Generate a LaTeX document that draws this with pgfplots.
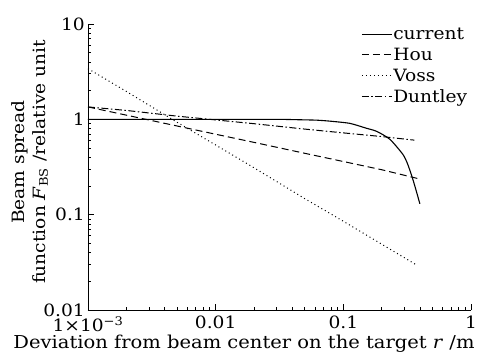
\documentclass[border=0pt]{standalone}
\usepackage{pgfplots}
\pgfplotsset{compat=1.18}
\usepackage{fontspec}
\setmainfont{DejaVu Serif}[FakeStretch=1.1]
\newcommand\fs{\fontsize{17}{20.5}\selectfont}
\begin{document}
\begin{tikzpicture}
\path[use as bounding box] (-88bp,-43bp) rectangle (393bp,310bp);
\begin{axis}[
  at={(0,0)}, anchor=south west,
  scale only axis, width=383bp, height=286bp,
  xmode=log, ymode=log,
  xmin=1e-3, xmax=1, ymin=0.01, ymax=10,
  axis x line*=bottom, axis y line*=left,
  axis line style={-, line width=0.9bp},
  tick align=inside,
  major tick length=6bp, minor tick length=3.5bp,
  every tick/.style={black, line width=0.8bp},
  xtick={0.001,0.01,0.1,1},
  xticklabels={1×10\textsuperscript{−3},0.01,0.1,1},
  minor xtick={0.002,0.003,0.004,0.005,0.006,0.007,0.008,0.009,0.02,0.03,0.04,0.05,0.06,0.07,0.08,0.09,0.2,0.3,0.4,0.5,0.6,0.7,0.8,0.9},
  ytick={0.01,0.1,1,10},
  yticklabels={0.01,0.1,1,10},
  minor ytick={0.02,0.03,0.04,0.05,0.06,0.07,0.08,0.09,0.2,0.3,0.4,0.5,0.6,0.7,0.8,0.9,2,3,4,5,6,7,8,9},
  tick label style={font=\fs},
  xticklabel style={anchor=north, yshift=-4bp, inner sep=2bp},
  yticklabel style={anchor=east, inner sep=2bp, xshift=-1bp},
  xlabel={Deviation from beam center on the target \textit{r} /m},
  xlabel style={font=\fontsize{17.8}{20}\selectfont, at={(axis description cs:0.5,0)}, anchor=center, xshift=-35.5bp, yshift=-34bp},
  ylabel={Beam spread\\function \textit{F}\textsubscript{BS} /relative unit},
  ylabel style={font=\fs, align=center, at={(axis description cs:0,0.5)}, anchor=center, xshift=5bp, yshift=58bp},
  legend style={draw=none, fill=none, font=\fs, at={(axis description cs:0.705,0.997)}, anchor=north west, row sep=5bp, nodes={inner sep=1bp}},
  legend cell align=left,
  legend image code/.code={\draw[#1] (0bp,0bp) -- (30bp,0bp);},
  clip=false,
]
\addplot[black, line width=1.1bp, smooth, tension=0.4] coordinates {
(0.001,1.0) (0.01,1.0) (0.03,1.0) (0.0457,0.99) (0.0621,0.98) (0.08,0.955) (0.1127,0.907) (0.15,0.81) (0.183,0.747) (0.232,0.616) (0.293,0.428) (0.32,0.336) (0.351,0.233) (0.37,0.183) (0.398,0.130)
};
\addlegendentry{current}
\addplot[black, line width=1bp, dash pattern=on 7bp off 4bp] coordinates {
(0.001,1.35) (0.002,1.106) (0.005,0.851) (0.01,0.698) (0.02,0.573) (0.05,0.440) (0.1,0.361) (0.2,0.296) (0.38,0.24)
};
\addlegendentry{Hou}
\addplot[black, line width=1bp, dash pattern=on 1bp off 3bp] coordinates {
(0.001,3.4) (0.002,1.96) (0.005,0.93) (0.01,0.538) (0.02,0.31) (0.05,0.147) (0.1,0.0853) (0.2,0.049) (0.38,0.0293)
};
\addlegendentry{Voss}
\addplot[black, line width=1bp, dash pattern=on 7bp off 2.5bp on 1.5bp off 2.5bp] coordinates {
(0.001,1.35) (0.002,1.24) (0.005,1.08) (0.01,0.986) (0.02,0.90) (0.05,0.79) (0.1,0.721) (0.2,0.66) (0.36,0.605)
};
\addlegendentry{Duntley}
\end{axis}
\end{tikzpicture}
\end{document}
